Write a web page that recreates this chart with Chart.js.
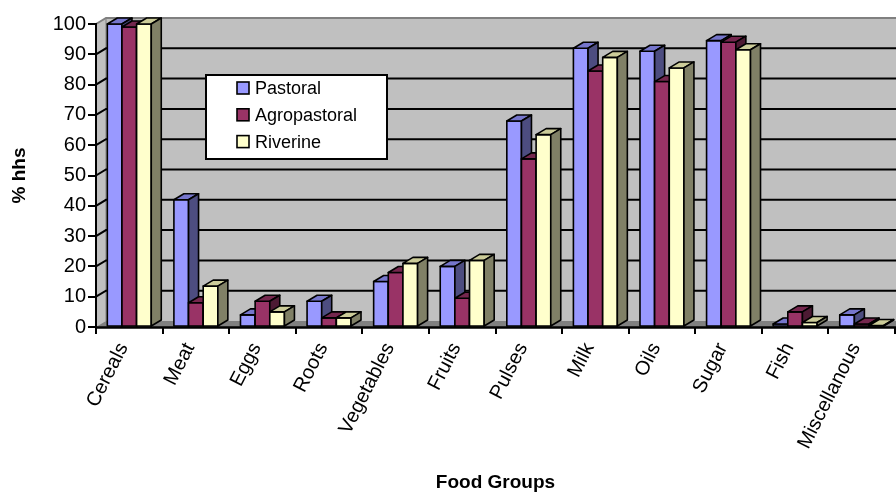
<!DOCTYPE html>
<html>
<head>
<meta charset="utf-8">
<script src="https://cdn.jsdelivr.net/npm/chart.js@4.4.1/dist/chart.umd.min.js"></script>
<style>
  html, body { margin: 0; padding: 0; background: #fff; }
  #wrap { width: 896px; height: 494px; position: relative; }
</style>
</head>
<body>
<div id="wrap"><canvas id="chart"></canvas></div>
<script>
// data
const categories = ['Cereals', 'Meat', 'Eggs', 'Roots', 'Vegetables', 'Fruits', 'Pulses',
  'Milk', 'Oils', 'Sugar', 'Fish', 'Miscellanous'];
const pastoral     = [100, 42, 4, 8.5, 15, 20, 68, 92, 91, 94.5, 1, 4];
const agropastoral = [99, 8, 8.5, 3, 18, 9.5, 55.5, 84.5, 81, 94, 5, 1];
const riverine     = [100, 13.5, 5, 3, 21, 22, 63.5, 89, 85.5, 91.5, 1.5, 0.5];
const seriesNames  = ['Pastoral', 'Agropastoral', 'Riverine'];
const yTicks       = [0, 10, 20, 30, 40, 50, 60, 70, 80, 90, 100];

const FONT = "'Liberation Sans', Arial, sans-serif";
const DEPTH_X = 10;
const DEPTH_Y = -6;

// front / top / side shades per series
const faces = [
  { front: '#9999ff', top: '#7676cc', side: '#4d4d80' },
  { front: '#993366', top: '#75274e', side: '#4d1a33' },
  { front: '#ffffcc', top: '#cccc99', side: '#808066' }
];

const box3d = {
  id: 'box3d',
  // back wall, side wall, floor and gridlines
  beforeDraw(chart) {
    const { ctx, chartArea: a } = chart;
    const yScale = chart.scales.y;
    ctx.save();
    ctx.fillStyle = '#c0c0c0';
    ctx.beginPath();
    ctx.moveTo(a.left, a.top);
    ctx.lineTo(a.left + DEPTH_X, a.top + DEPTH_Y);
    ctx.lineTo(a.right + DEPTH_X, a.top + DEPTH_Y);
    ctx.lineTo(a.right + DEPTH_X, a.bottom + DEPTH_Y);
    ctx.lineTo(a.left, a.bottom);
    ctx.closePath();
    ctx.fill();

    ctx.fillStyle = '#808080';
    ctx.beginPath();
    ctx.moveTo(a.left, a.bottom);
    ctx.lineTo(a.left + DEPTH_X, a.bottom + DEPTH_Y);
    ctx.lineTo(a.right + DEPTH_X, a.bottom + DEPTH_Y);
    ctx.lineTo(a.right, a.bottom);
    ctx.closePath();
    ctx.fill();

    // line between side wall and back wall
    ctx.strokeStyle = '#808080';
    ctx.lineWidth = 1;
    ctx.beginPath();
    ctx.moveTo(a.left + DEPTH_X, a.top + DEPTH_Y);
    ctx.lineTo(a.left + DEPTH_X, a.bottom + DEPTH_Y);
    ctx.stroke();

    yTicks.forEach(v => {
      if (v === 0) return;
      const py = yScale.getPixelForValue(v);
      ctx.strokeStyle = v === 100 ? '#808080' : '#000';
      ctx.lineWidth = 2;
      ctx.beginPath();
      ctx.moveTo(a.left, py);
      ctx.lineTo(a.left + DEPTH_X, py + DEPTH_Y);
      ctx.lineTo(a.right + DEPTH_X, py + DEPTH_Y);
      ctx.stroke();
    });
    ctx.restore();
  },

  // draw the bars as boxes, left to right inside each group
  beforeDatasetsDraw(chart) {
    const ctx = chart.ctx;
    const metas = [0, 1, 2].map(i => chart.getDatasetMeta(i));
    ctx.save();
    ctx.lineWidth = 1.6;
    ctx.strokeStyle = '#000';
    ctx.lineJoin = 'round';
    categories.forEach((c, i) => {
      metas.forEach((meta, d) => {
        const el = meta.data[i];
        const x0 = el.x - el.width / 2;
        const x1 = el.x + el.width / 2;
        const yt = el.y;
        const yb = el.base;
        const f = faces[d];

        ctx.fillStyle = f.front;
        ctx.beginPath();
        ctx.rect(x0, yt, x1 - x0, yb - yt);
        ctx.fill();
        ctx.stroke();

        ctx.fillStyle = f.top;
        ctx.beginPath();
        ctx.moveTo(x0, yt);
        ctx.lineTo(x0 + DEPTH_X, yt + DEPTH_Y);
        ctx.lineTo(x1 + DEPTH_X, yt + DEPTH_Y);
        ctx.lineTo(x1, yt);
        ctx.closePath();
        ctx.fill();
        ctx.stroke();

        ctx.fillStyle = f.side;
        ctx.beginPath();
        ctx.moveTo(x1, yt);
        ctx.lineTo(x1 + DEPTH_X, yt + DEPTH_Y);
        ctx.lineTo(x1 + DEPTH_X, yb + DEPTH_Y);
        ctx.lineTo(x1, yb);
        ctx.closePath();
        ctx.fill();
        ctx.stroke();
      });
    });
    // x axis line on top of bar bottoms
    const a = chart.chartArea;
    ctx.lineWidth = 2.5;
    ctx.beginPath();
    ctx.moveTo(a.left, a.bottom + 0.5);
    ctx.lineTo(a.right + 2, a.bottom + 0.5);
    ctx.stroke();
    ctx.restore();
    return false;
  },

  // boxed legend inside the plot
  afterDraw(chart) {
    const ctx = chart.ctx;
    const bx = 206, by = 75, bw = 181, bh = 84;
    ctx.save();
    ctx.fillStyle = '#fff';
    ctx.fillRect(bx, by, bw, bh);
    ctx.strokeStyle = '#000';
    ctx.lineWidth = 2;
    ctx.strokeRect(bx, by, bw, bh);
    ctx.font = '18px ' + FONT;
    ctx.textBaseline = 'middle';
    chart.data.datasets.forEach((ds, i) => {
      const cy = 88 + i * 26.8;
      ctx.fillStyle = ds.backgroundColor;
      ctx.fillRect(237, cy - 6, 12, 12);
      ctx.lineWidth = 1.6;
      ctx.strokeRect(237, cy - 6, 12, 12);
      ctx.fillStyle = '#000';
      ctx.fillText(ds.label, 255, cy + 1);
    });
    ctx.restore();
  }
};

new Chart(document.getElementById('chart'), {
  type: 'bar',
  data: {
    labels: categories,
    datasets: [pastoral, agropastoral, riverine].map((vals, i) => ({
      label: seriesNames[i],
      data: vals,
      backgroundColor: faces[i].front,
      borderColor: '#000',
      borderWidth: 1.6,
      categoryPercentage: 0.66,
      barPercentage: 1.0
    }))
  },
  options: {
    responsive: true,
    maintainAspectRatio: false,
    animation: false,
    layout: { padding: { top: 24, right: 1, left: 0, bottom: 0 } },
    plugins: {
      legend: { display: false },
      tooltip: { enabled: false }
    },
    scales: {
      x: {
        afterFit: s => { s.height = 167; },
        grid: { drawOnChartArea: false, drawTicks: true, tickLength: 7, color: '#000', lineWidth: 2 },
        border: { display: false },
        ticks: {
          color: '#000',
          font: { family: FONT, size: 20 },
          maxRotation: 63,
          minRotation: 63,
          padding: 5,
          labelOffset: -6,
          autoSkip: false
        },
        title: {
          display: true,
          text: 'Food Groups',
          color: '#000',
          font: { family: FONT, size: 19, weight: 'bold' },
          padding: { top: 0, bottom: 0 }
        }
      },
      y: {
        min: 0,
        max: 100,
        afterFit: s => { s.width = 96; },
        afterBuildTicks: s => { s.ticks = yTicks.map(v => ({ value: v })); },
        grid: { drawOnChartArea: false, drawTicks: true, tickLength: 8, color: '#000', lineWidth: 2 },
        border: { display: true, color: '#000', width: 2 },
        ticks: {
          color: '#000',
          font: { family: FONT, size: 20 },
          padding: 2
        },
        title: {
          display: true,
          text: '% hhs',
          color: '#000',
          font: { family: FONT, size: 19, weight: 'bold' },
          padding: { top: 8, bottom: 4 }
        }
      }
    }
  },
  plugins: [box3d]
});
</script>
</body>
</html>
